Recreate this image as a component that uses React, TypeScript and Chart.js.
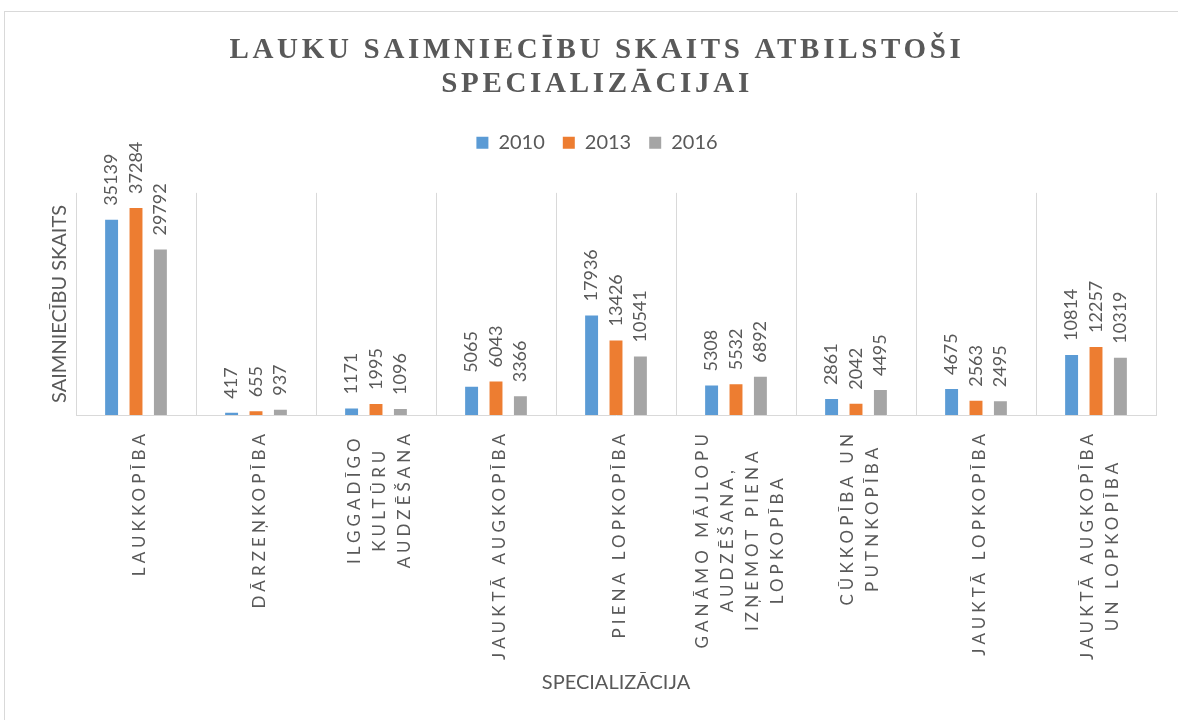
import React, { useEffect, useRef } from "react";
import { Chart, registerables } from "chart.js";

Chart.register(...registerables);

// ---- data ----
const titleLines: string[] = ["LAUKU SAIMNIECĪBU SKAITS ATBILSTOŠI", "SPECIALIZĀCIJAI"];
const categories: string[][] = [
  ["LAUKKOPĪBA"],
  ["DĀRZEŅKOPĪBA"],
  ["ILGGADĪGO", "KULTŪRU", "AUDZĒŠANA"],
  ["JAUKTĀ AUGKOPĪBA"],
  ["PIENA LOPKOPĪBA"],
  ["GANĀMO MĀJLOPU", "AUDZĒŠANA,", "IZŅEMOT PIENA", "LOPKOPĪBA"],
  ["CŪKKOPĪBA UN", "PUTNKOPĪBA"],
  ["JAUKTĀ LOPKOPĪBA"],
  ["JAUKTĀ AUGKOPĪBA", "UN LOPKOPĪBA"],
];
const seriesNames: string[] = ["2010", "2013", "2016"];
const values2010: number[] = [35139, 417, 1171, 5065, 17936, 5308, 2861, 4675, 10814];
const values2013: number[] = [37284, 655, 1995, 6043, 13426, 5532, 2042, 2563, 12257];
const values2016: number[] = [29792, 937, 1096, 3366, 10541, 6892, 4495, 2495, 10319];
const yTitle = "SAIMNIECĪBU SKAITS";
const xTitle = "SPECIALIZĀCIJA";

const TEXT = "#595959";
const GRID = "#D9D9D9";
const FONT = "Lato, 'Noto Sans', sans-serif";

const titleSpacingPlugin = {
  id: "titleSpacing",
  afterLayout(chart: any) {
    const tb = chart.titleBlock;
    if (tb && !tb.__ls) {
      const orig = tb.draw.bind(tb);
      tb.draw = () => {
        const ctx = chart.ctx;
        ctx.save();
        (ctx as any).letterSpacing = "3.7px";
        orig();
        ctx.restore();
      };
      tb.__ls = true;
    }
  },
};

const xLabelsPlugin = {
  id: "xLabels",
  afterDraw(chart: any) {
    const ctx = chart.ctx as CanvasRenderingContext2D;
    const xs = chart.scales.x;
    ctx.save();
    ctx.font = `17px ${FONT}`;
    (ctx as any).letterSpacing = "4.1px";
    ctx.fillStyle = TEXT;
    ctx.textAlign = "center";
    ctx.textBaseline = "middle";
    const lh = 25;
    categories.forEach((lines, i) => {
      const cx = xs.getPixelForTick(i) + 4;
      const maxW = Math.max(...lines.map((l) => ctx.measureText(l).width));
      const cy = chart.chartArea.bottom + 15 + maxW / 2;
      ctx.save();
      ctx.translate(cx, cy);
      ctx.rotate(-Math.PI / 2);
      lines.forEach((l, j) => ctx.fillText(l, 0, (j - (lines.length - 1) / 2) * lh));
      ctx.restore();
    });
    ctx.restore();
  },
};

const valueLabelsPlugin = {
  id: "valueLabels",
  afterDatasetsDraw(chart: any) {
    const ctx = chart.ctx as CanvasRenderingContext2D;
    ctx.save();
    ctx.font = `18px ${FONT}`;
    ctx.fillStyle = TEXT;
    ctx.textAlign = "left";
    ctx.textBaseline = "middle";
    chart.data.datasets.forEach((ds: any, di: number) => {
      const meta = chart.getDatasetMeta(di);
      meta.data.forEach((bar: any, i: number) => {
        ctx.save();
        ctx.translate(bar.x, bar.y - 14);
        ctx.rotate(-Math.PI / 2);
        ctx.fillText(String(ds.data[i]), 0, 0);
        ctx.restore();
      });
    });
    ctx.restore();
  },
};

export default function App() {
  const ref = useRef<HTMLCanvasElement | null>(null);
  useEffect(() => {
    if (!ref.current) return;
    const chart = new Chart(ref.current, {
      type: "bar",
      data: {
        labels: categories.map((c) => c.join(" ")),
        datasets: [
          { label: seriesNames[0], data: values2010, backgroundColor: "#5B9BD5" },
          { label: seriesNames[1], data: values2013, backgroundColor: "#ED7D31" },
          { label: seriesNames[2], data: values2016, backgroundColor: "#A5A5A5" },
        ],
      },
      options: {
        responsive: false,
        animation: false,
        devicePixelRatio: 1,
        layout: { padding: { top: 12, left: 38, right: 38, bottom: 0 } },
        datasets: { bar: { categoryPercentage: 0.61, barPercentage: 0.53 } },
        plugins: {
          title: {
            display: true,
            text: titleLines,
            color: TEXT,
            font: { family: "'Liberation Serif', serif", size: 29, weight: "bold", lineHeight: 1.17 },
            padding: { top: 22, bottom: 13 },
          },
          subtitle: {
            display: true,
            text: " ",
            weight: 500,
            font: { size: 10, lineHeight: 1 },
            padding: { top: 20, bottom: 0 },
          } as any,
          legend: {
            position: "top",
            labels: {
              color: TEXT,
              font: { family: FONT, size: 20 },
              boxWidth: 12,
              boxHeight: 12,
              padding: 18,
            },
          },
          tooltip: { enabled: false },
        },
        scales: {
          x: {
            grid: { display: true, offset: true, color: GRID, drawTicks: false },
            border: { display: true, color: GRID },
            ticks: { display: false },
            title: {
              display: true,
              text: xTitle,
              color: TEXT,
              font: { family: FONT, size: 20 },
              padding: { top: 0, bottom: 25 },
            },
            afterFit: (s: any) => {
              s.height = 305;
            },
          },
          y: {
            min: 0,
            max: 40000,
            grid: { display: false },
            border: { display: false },
            ticks: { display: false },
            title: {
              display: true,
              text: yTitle,
              color: TEXT,
              font: { family: FONT, size: 20 },
              padding: { top: 10, bottom: 0 },
            },
            afterFit: (s: any) => {
              s.width = 38;
            },
          },
        },
      },
      plugins: [titleSpacingPlugin, xLabelsPlugin, valueLabelsPlugin],
    });
    return () => chart.destroy();
  }, []);

  return (
    <div
      style={{
        position: "fixed",
        left: 0,
        top: 0,
        width: 1178,
        height: 720,
        overflow: "hidden",
        background: "#fff",
      }}
    >
      <div
        style={{
          position: "absolute",
          left: 4,
          top: 11,
          width: 1300,
          height: 800,
          border: "1px solid #D9D9D9",
        }}
      />
      <canvas
        ref={ref}
        width={1194}
        height={720}
        style={{ position: "absolute", left: 0, top: 0, width: 1194, height: 720 }}
      />
    </div>
  );
}
